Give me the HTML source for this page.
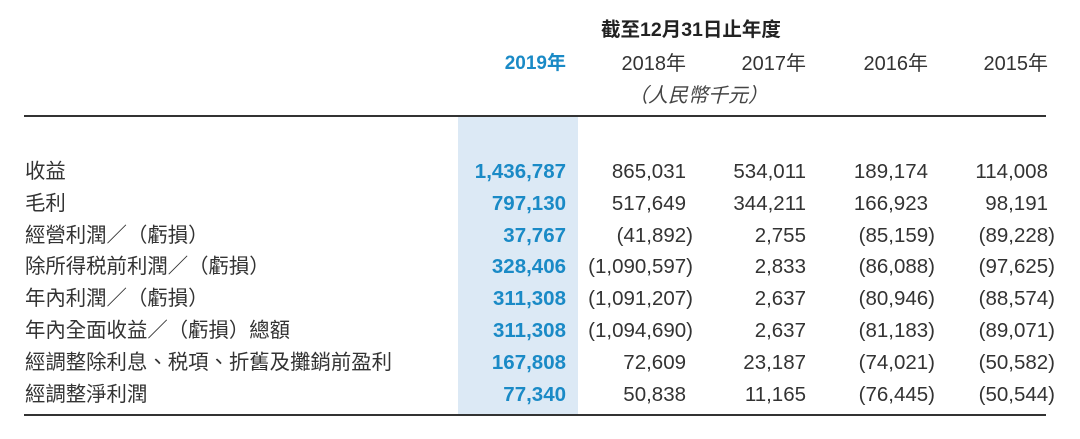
<!DOCTYPE html>
<html><head><meta charset="utf-8"><style>
html,body{margin:0;padding:0;background:#fff;}
body{width:1080px;height:439px;position:relative;overflow:hidden;font-family:"Liberation Sans","Noto Sans CJK TC",sans-serif;color:#333;}
.a{position:absolute;white-space:nowrap;line-height:1;}
.r{text-align:right;}
.hl{position:absolute;left:458px;top:117px;width:120px;height:297px;background:#dce9f5;}
.rule{position:absolute;left:24px;width:1022px;height:2px;background:#333;}
.n{font-size:20.5px;}
.b{color:#1a8ac6;font-weight:bold;}
.lab{font-size:20.4px;left:25px;}
.p{display:inline-block;margin-right:-7px;}
</style></head><body>
<div class="hl"></div>
<div class="a" style="left:601px;top:21px;font-size:19.5px;font-weight:bold;color:#222">截至12月31日止年度</div>
<div class="rule" style="top:115px"></div>
<div class="rule" style="top:414px"></div>
<div class="a" style="left:628px;top:86px;font-size:20px;font-style:italic;color:#444">（人民幣千元）</div>
<div id="t"></div>
<script>
const years=["2019年","2018年","2017年","2016年","2015年"];
const labels=["收益","毛利","經營利潤／（虧損）","除所得税前利潤／（虧損）","年內利潤／（虧損）","年內全面收益／（虧損）總額","經調整除利息、税項、折舊及攤銷前盈利","經調整淨利潤"];
const v2019=["1,436,787","797,130","37,767","328,406","311,308","311,308","167,808","77,340"];
const v2018=["865,031","517,649","(41,892)","(1,090,597)","(1,091,207)","(1,094,690)","72,609","50,838"];
const v2017=["534,011","344,211","2,755","2,833","2,637","2,637","23,187","11,165"];
const v2016=["189,174","166,923","(85,159)","(86,088)","(80,946)","(81,183)","(74,021)","(76,445)"];
const v2015=["114,008","98,191","(89,228)","(97,625)","(88,574)","(89,071)","(50,582)","(50,544)"];
const cols=[v2019,v2018,v2017,v2016,v2015];
const rightEdge=[566,686,806,928,1048];
const t=document.getElementById('t');
years.forEach((y,i)=>{
  const d=document.createElement('div');
  d.className='a r n'+(i===0?' b':'');
  d.style.cssText=`right:${1080-rightEdge[i]}px;top:54px;font-size:${i===0?19:20}px;`;
  d.textContent=y;
  
  
  t.appendChild(d);
});
labels.forEach((l,r)=>{
  const top=162+r*31.8;
  const d=document.createElement('div');
  d.className='a lab';
  d.style.top=(top)+'px';
  d.textContent=l;
  
  
  t.appendChild(d);
  cols.forEach((c,i)=>{
    const e=document.createElement('div');
    e.className='a r n'+(i===0?' b':'');
    e.style.cssText=`right:${1080-rightEdge[i]}px;top:${top}px;`;
    const v=c[r];
    if(v.startsWith('(')) e.innerHTML='<span class="p">'+v+'</span>';
    else e.textContent=v;
    
    
    t.appendChild(e);
  });
});
</script>
</body></html>
